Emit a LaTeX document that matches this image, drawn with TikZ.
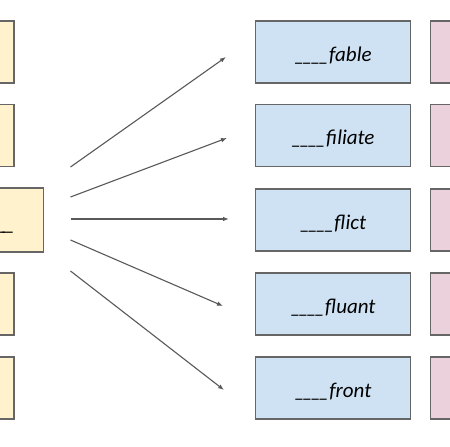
\documentclass[tikz,border=0pt]{standalone}
\usepackage{fontspec}
\setmainfont{Carlito}
\usepackage{xcolor}
\usepackage{tikz}
\usetikzlibrary{positioning, arrows.meta}
\definecolor{rootyellow}{HTML}{FFF2CC}
\definecolor{stemblue}{HTML}{CFE2F3}
\definecolor{meanpink}{HTML}{EAD1DC}
\definecolor{edgegray}{HTML}{666666}
\definecolor{linegray}{HTML}{595959}
\newcommand{\gap}{\_\kern-2.4pt\_\kern-2.4pt\_\kern-2.4pt\_}

\begin{document}
\begin{tikzpicture}[x=1pt, y=-1pt,
    card/.style={draw=edgegray, line width=1.1pt, minimum width=155pt,
                 minimum height=62pt, inner sep=0pt},
    rootbox/.style={card, fill=rootyellow},
    stembox/.style={card, fill=stemblue, font=\fontsize{21}{25}\selectfont\itshape,
                    text height=18pt, text depth=0pt},
    meanbox/.style={card, fill=meanpink},
    link/.style={draw=linegray, line width=1.1pt, -{Latex[length=6pt, width=4.5pt]}}]
  \fill[white] (0,0) rectangle (450,447);
  \useasboundingbox (0,0) rectangle (450,447);

  % prefix column, cut off on the left
  \node[rootbox, anchor=east] (root1) at (14.5,52) {};
  \node[rootbox, anchor=east] (root2) at (14.5,135.5) {};
  \node[rootbox, anchor=east, minimum height=64pt] (root3) at (44,220) {};
  \node[rootbox, anchor=east] (root4) at (14.5,304) {};
  \node[rootbox, anchor=east] (root5) at (14.5,388) {};
  \node[font=\fontsize{21}{25}\selectfont, anchor=base east, inner sep=0pt]
    (blank) at (13,230) {\gap};

  % word endings
  \node[stembox] (fable) at (333,52) {\gap fable};
  \node[stembox] (filiate) at (333,135.5) {\gap filiate};
  \node[stembox] (flict) at (333,220) {\gap flict};
  \node[stembox] (fluant) at (333,304) {\gap fluant};
  \node[stembox] (front) at (333,388) {\gap front};

  % meaning column, cut off on the right
  \node[meanbox, anchor=west] (mean1) at (430,52) {};
  \node[meanbox, anchor=west] (mean2) at (430,135.5) {};
  \node[meanbox, anchor=west] (mean3) at (430,220) {};
  \node[meanbox, anchor=west] (mean4) at (430,304) {};
  \node[meanbox, anchor=west] (mean5) at (430,388) {};

  % fan of arrows
  \coordinate (from1) at (70.5,167);
  \coordinate (from2) at (70.5,197);
  \coordinate (from3) at (70.5,219);
  \coordinate (from4) at (70.5,240);
  \coordinate (from5) at (70.5,271);
  \coordinate (to1) at (226,57);
  \coordinate (to2) at (227,138);
  \coordinate (to3) at (229,219);
  \coordinate (to4) at (223,306);
  \coordinate (to5) at (224,390);
  \draw[link] (from1) -- (to1);
  \draw[link] (from2) -- (to2);
  \draw[link] (from3) -- (to3);
  \draw[link] (from4) -- (to4);
  \draw[link] (from5) -- (to5);
\end{tikzpicture}
\end{document}
